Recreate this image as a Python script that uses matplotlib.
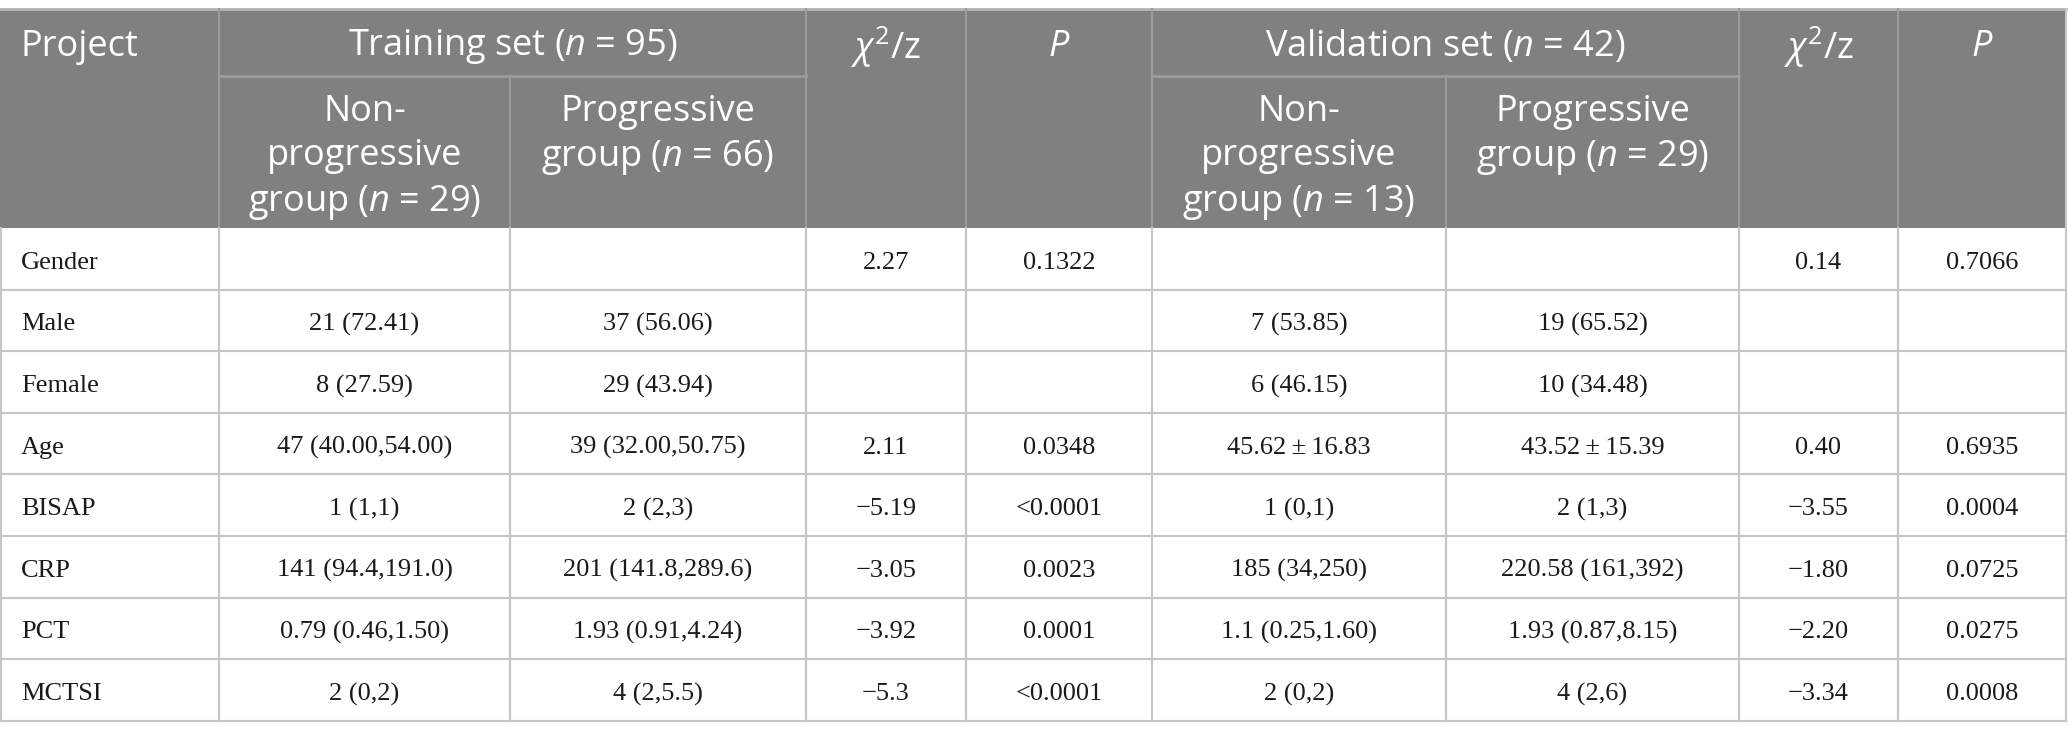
import matplotlib.pyplot as plt
from matplotlib.patches import Rectangle

plt.rcParams['mathtext.fontset'] = 'custom'
plt.rcParams['mathtext.rm'] = 'Open Sans'
plt.rcParams['mathtext.it'] = 'Open Sans:italic'

# 表格内容
row_names = ['Gender', 'Male', 'Female', 'Age', 'BISAP', 'CRP', 'PCT', 'MCTSI']
train_non = ['', '21 (72.41)', '8 (27.59)', '47 (40.00,54.00)', '1 (1,1)',
             '141 (94.4,191.0)', '0.79 (0.46,1.50)', '2 (0,2)']
train_prog = ['', '37 (56.06)', '29 (43.94)', '39 (32.00,50.75)', '2 (2,3)',
              '201 (141.8,289.6)', '1.93 (0.91,4.24)', '4 (2,5.5)']
train_chi = ['2.27', '', '', '2.11', '\u22125.19', '\u22123.05', '\u22123.92', '\u22125.3']
train_p = ['0.1322', '', '', '0.0348', '<0.0001', '0.0023', '0.0001', '<0.0001']
val_non = ['', '7 (53.85)', '6 (46.15)', '45.62\u2009±\u200916.83', '1 (0,1)',
           '185 (34,250)', '1.1 (0.25,1.60)', '2 (0,2)']
val_prog = ['', '19 (65.52)', '10 (34.48)', '43.52\u2009±\u200915.39', '2 (1,3)',
            '220.58 (161,392)', '1.93 (0.87,8.15)', '4 (2,6)']
val_chi = ['0.14', '', '', '0.40', '\u22123.55', '\u22121.80', '\u22122.20', '\u22123.34']
val_p = ['0.7066', '', '', '0.6935', '0.0004', '0.0725', '0.0275', '0.0008']

group_headers = ['Training set ($n$ = 95)', 'Validation set ($n$ = 42)']
sub_headers = ['Non-\nprogressive\ngroup ($n$ = 29)', 'Progressive\ngroup ($n$ = 66)',
               'Non-\nprogressive\ngroup ($n$ = 13)', 'Progressive\ngroup ($n$ = 29)']

columns = [row_names, train_non, train_prog, train_chi, train_p,
           val_non, val_prog, val_chi, val_p]

# 版面（像素）
col_x = [0, 219, 510, 806, 966, 1152, 1446, 1739, 1898, 2066]
y_top, y_mid, y_head = 9, 76, 228
row_h = 61.6

W, H = 2068, 740
fig = plt.figure(figsize=(W / 100, H / 100), dpi=100)
ax = fig.add_axes([0, 0, 1, 1])
ax.set_xlim(0, W)
ax.set_ylim(H, 0)
ax.axis('off')

head_bg = '#808080'
head_line = '#9c9c9c'
body_line = '#c6c6c6'
head_font = 'Open Sans'
body_font = 'Liberation Serif'
hs = 26
bs = 19

ax.add_patch(Rectangle((col_x[0], y_top), col_x[-1] - col_x[0], y_head - y_top,
                       facecolor=head_bg, edgecolor='none'))
ax.plot([col_x[0], col_x[-1]], [y_top, y_top], color='#b4b4b4', lw=2)

# 表头分隔线
for i in [1, 3, 4, 5, 7, 8]:
    ax.plot([col_x[i], col_x[i]], [y_top, y_head], color=head_line, lw=1.5)
for i in [2, 6]:
    ax.plot([col_x[i], col_x[i]], [y_mid, y_head], color=head_line, lw=1.5)
for a, b in [(1, 3), (5, 7)]:
    ax.plot([col_x[a], col_x[b]], [y_mid, y_mid], color=head_line, lw=2)

# 表头文字
ty = 47
ax.text(col_x[0] + 20, ty, 'Project', color='white', fontsize=hs, family=head_font,
        ha='left', va='center')
for (a, b), t in zip([(1, 3), (5, 7)], group_headers):
    ax.text((col_x[a] + col_x[b]) / 2, ty, t, color='white', fontsize=hs,
            family=head_font, ha='center', va='center')
for i in [3, 7]:
    ax.text((col_x[i] + col_x[i + 1]) / 2, ty, r'$\chi^2$/z', color='white', fontsize=hs,
            family=head_font, ha='center', va='center')
for i in [4, 8]:
    ax.text((col_x[i] + col_x[i + 1]) / 2, ty, 'P', color='white', fontsize=hs,
            family=head_font, style='italic', ha='center', va='center')
for i, t in zip([1, 2, 5, 6], sub_headers):
    ax.text((col_x[i] + col_x[i + 1]) / 2, 94, t, color='white', fontsize=hs,
            family=head_font, ha='center', va='top', linespacing=1.3)

# 表体
n = len(row_names)
ys = [y_head + k * row_h for k in range(n + 1)]
for y in ys[1:]:
    ax.plot([col_x[0], col_x[-1]], [y, y], color=body_line, lw=1.5)
for x in col_x[1:-1]:
    ax.plot([x, x], [y_head, ys[-1]], color=body_line, lw=1.5)
ax.plot([col_x[-1], col_x[-1]], [y_top, ys[-1]], color=body_line, lw=1.5)
ax.plot([col_x[0] + 1, col_x[0] + 1], [y_head, ys[-1]], color=body_line, lw=1.5)

for j, col in enumerate(columns):
    for k, val in enumerate(col):
        yc = (ys[k] + ys[k + 1]) / 2 + 4
        if j == 0:
            ax.text(col_x[0] + 21, yc, val, fontsize=bs, family=body_font,
                    color='#1a1a1a', ha='left', va='center')
        else:
            ax.text((col_x[j] + col_x[j + 1]) / 2, yc, val, fontsize=bs,
                    family=[body_font, 'DejaVu Serif'], color='#1a1a1a',
                    ha='center', va='center')

fig.savefig('out.png', dpi=100, facecolor='white')
